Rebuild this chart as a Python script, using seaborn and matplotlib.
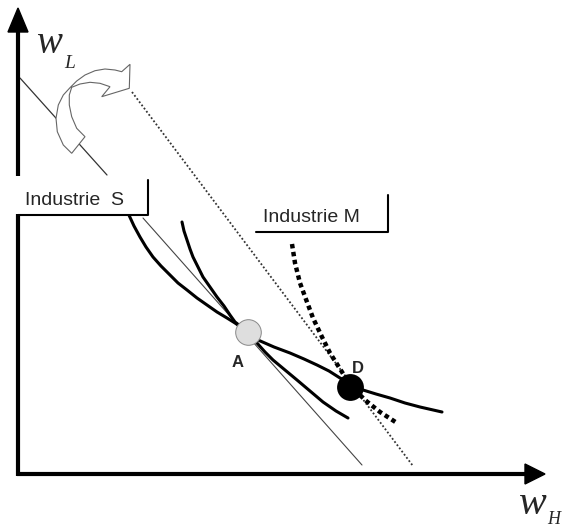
import numpy as np
import pandas as pd
import matplotlib.pyplot as plt
import seaborn as sns
from matplotlib.patches import Polygon, Rectangle

# --- Canvas (data units = pixels, y pointing down) ---
W, H = 570, 529

# --- Curves ---
# isocost curve through A and D
curve1_x = [128, 134, 140, 146, 153, 161, 170, 178, 187, 197, 207, 217, 227, 235, 248, 258, 274, 290, 304, 317, 329, 340, 352, 363, 376, 390, 405, 420, 442]
curve1_y = [213, 226, 237, 247, 257, 266, 275, 283, 290, 298, 305, 312, 318, 323, 332, 340, 347, 353, 359, 365, 371, 378, 384, 390, 394, 398, 403, 407, 412]
# steeper curve crossing at A
curve2_x = [182, 184, 187, 190, 193, 198, 203, 210, 217, 224, 230, 235, 248, 257, 265, 273, 285, 297, 310, 323, 336, 348]
curve2_y = [222, 231, 240, 249, 257, 267, 277, 287, 297, 306, 315, 322, 332, 343, 352, 360, 370, 380, 391, 402, 411, 418]
# industry M curve (heavy dotted)
curveM_x = [292, 295, 300, 307, 313, 322, 330, 342, 350, 365, 380, 397]
curveM_y = [244, 263, 283, 302, 318, 337, 353, 372, 385, 400, 412, 423]

# price lines
old_line_x = [20, 107]
old_line_y = [78, 175]
tangent_x = [143, 362]
tangent_y = [218, 465]
new_line_x = [132, 413]
new_line_y = [92, 466]

# equilibrium points
points = pd.DataFrame({"x": [248, 350], "y": [332, 387], "name": ["A", "D"]})
label_x = [232, 352]
label_y = [367, 373]

# curved hollow arrow outline
arrow_x = [71.7, 63.3, 57.3, 56, 58.3, 63.3, 70, 76.7, 85, 95, 105, 115, 121.7,
           130, 129.3, 101.7, 110, 100, 90, 80, 71.7, 69.3, 69.3, 71.7, 76.7, 85]
arrow_y = [153.3, 145, 131.7, 118.3, 105, 95, 87.7, 81, 75, 70.7, 69, 70, 71.7,
           64.3, 88.3, 96.7, 86.7, 83.3, 82.3, 84, 87.3, 95, 105, 116.7, 128.3, 136.7]

# axes
origin = (18, 474)
x_tip, y_tip = 545, 8

sns.set_theme(style="white")
fig = plt.figure(figsize=(5.7, 5.29), dpi=100)
ax = fig.add_axes([0, 0, 1, 1])

# thin price lines
sns.lineplot(x=old_line_x, y=old_line_y, sort=False, estimator=None, color="#333333", lw=0.9, ax=ax)
sns.lineplot(x=tangent_x, y=tangent_y, sort=False, estimator=None, color="#444444", lw=0.8, ax=ax)
sns.lineplot(x=new_line_x, y=new_line_y, sort=False, estimator=None, color="#333333", lw=1.3,
             linestyle=(0, (1, 1.2)), ax=ax)

# curves
sns.lineplot(x=curve1_x, y=curve1_y, sort=False, estimator=None, color="black", lw=2.2, ax=ax)
sns.lineplot(x=curve2_x, y=curve2_y, sort=False, estimator=None, color="black", lw=2.2, ax=ax)
sns.lineplot(x=curveM_x, y=curveM_y, sort=False, estimator=None, color="black", lw=3.2,
             linestyle=(0, (1, 0.8)), ax=ax)

# points A and D
sns.scatterplot(data=points[points["name"] == "A"], x="x", y="y", s=340, color="#dedede",
                edgecolor="#888888", linewidth=0.7, zorder=7, ax=ax)
sns.scatterplot(data=points[points["name"] == "D"], x="x", y="y", s=320, color="black",
                edgecolor="black", zorder=7, ax=ax)
for lx, ly, name in zip(label_x, label_y, points["name"]):
    ax.text(lx, ly, name, fontsize=12, fontweight="bold", family="Liberation Sans",
            ha="left", va="baseline", zorder=8)

# hollow curved arrow
ax.add_patch(Polygon(list(zip(arrow_x, arrow_y)), closed=True, fc="white", ec="#666666",
                     lw=0.8, zorder=5))

# axes with arrow heads
ax.plot([origin[0], origin[0]], [origin[1] + 1.5, 30], color="black", lw=3, solid_capstyle="butt", zorder=4)
ax.plot([origin[0] - 1.5, 527], [origin[1], origin[1]], color="black", lw=3, solid_capstyle="butt", zorder=4)
ax.fill([origin[0], origin[0] - 10, origin[0] + 10], [y_tip, 32, 32], color="black", zorder=4)
ax.fill([x_tip, 525, 525], [origin[1], origin[1] - 10, origin[1] + 10], color="black", zorder=4)

# industry S label box (covers the axis)
ax.add_patch(Rectangle((0, 176), 148, 38, fc="white", ec="none", zorder=6))
ax.plot([18, 148, 148], [215, 215, 180], color="black", lw=1.5, zorder=6)
ax.text(25, 205, "Industrie  S", fontsize=14, family="Liberation Sans", ha="left", va="baseline", zorder=7)

# industry M label box
ax.plot([256, 388, 388], [232, 232, 195], color="black", lw=1.5, zorder=6)
ax.text(263, 222, "Industrie M", fontsize=14, family="Liberation Sans", ha="left", va="baseline", zorder=7)

# axis titles
ax.text(36, 53, "w", fontsize=28, family="Liberation Serif", style="italic", ha="left", va="baseline")
ax.text(64, 68, "L", fontsize=14, family="Liberation Serif", style="italic", ha="left", va="baseline")
ax.text(519, 514, "w", fontsize=30, family="Liberation Serif", style="italic", ha="left", va="baseline")
ax.text(547, 524, "H", fontsize=13, family="Liberation Serif", style="italic", ha="left", va="baseline")

ax.set_xlim(0, W)
ax.set_ylim(H, 0)
ax.axis("off")
if ax.get_legend() is not None:
    ax.get_legend().remove()

fig.savefig("out.png", dpi=100, facecolor="white")
